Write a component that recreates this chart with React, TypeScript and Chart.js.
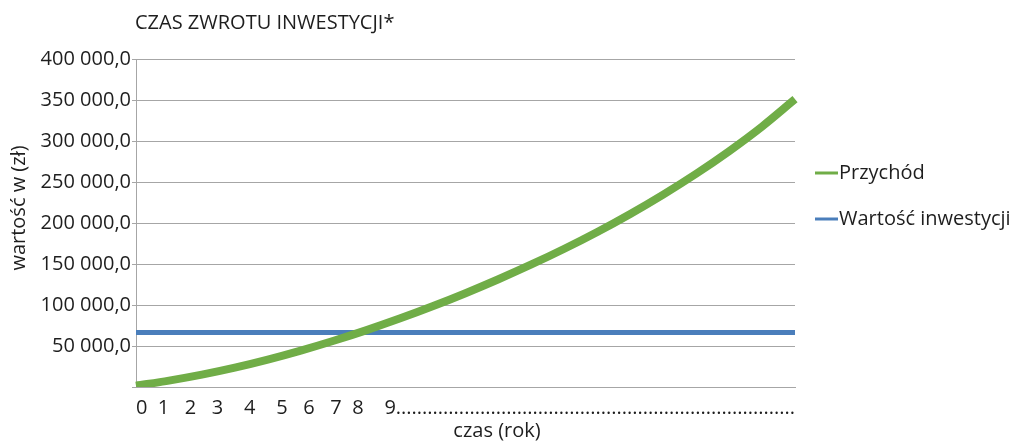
import { useEffect, useRef } from 'react';
import { Chart, registerables } from 'chart.js';

Chart.register(...registerables);

const TITLE = 'CZAS ZWROTU INWESTYCJI*';
const Y_TITLE = 'wartość w (zł)';
const X_TITLE = 'czas (rok)';
const X_TICK_LABEL = '0  1   2   3    4    5   6   7  8    9' + '.'.repeat(76);

const YEARS = [0, 1, 2, 3, 4, 5, 6, 7, 8, 9, 10, 11, 12, 13, 14, 15, 16, 17, 18, 19, 20];
const PRZYCHOD = [1500, 7800, 15100, 23600, 33400, 44400, 56400, 69400, 83400, 98400, 114400, 131400, 149400, 168600, 189100, 211100, 234700, 260100, 287600, 317600, 351000];
const WARTOSC_INWESTYCJI = [66500, 66500, 66500, 66500, 66500, 66500, 66500, 66500, 66500, 66500, 66500, 66500, 66500, 66500, 66500, 66500, 66500, 66500, 66500, 66500, 66500];

const SERIES_LABELS = ['Przychód', 'Wartość inwestycji'];
const Y_MIN = 0;
const Y_MAX = 400000;
const Y_STEP = 50000;

const FONT = '"Open Sans", "Noto Sans", sans-serif';
const FONT_SIZE = 20;
const TEXT_COLOR = '#1e1e1e';
const GRID_COLOR = '#A6A6A6';
const GREEN = '#70AD47';
const BLUE = '#4A7EBB';

function formatPl(v: number): string {
  if (v === 0) return '';
  const s = Math.round(v).toString().replace(/\B(?=(\d{3})+(?!\d))/g, ' ');
  return s + ',0';
}

const textPlugin = {
  id: 'customTexts',
  afterDraw(chart: any) {
    const ctx = chart.ctx as CanvasRenderingContext2D;
    ctx.save();
    ctx.fillStyle = TEXT_COLOR;
    ctx.font = `${FONT_SIZE}px ${FONT}`;
    ctx.textBaseline = 'middle';
    ctx.textAlign = 'left';
    ctx.fillText(TITLE, 135, 23);

    ctx.textAlign = 'center';
    ctx.fillText(X_TITLE, 497, 431);

    ctx.save();
    ctx.translate(19, 208);
    ctx.rotate(-Math.PI / 2);
    ctx.fillText(Y_TITLE, 0, 0);
    ctx.restore();

    ctx.textAlign = 'left';
    chart.data.datasets.forEach((ds: any, i: number) => {
      const y = 173 + i * 46;
      ctx.strokeStyle = ds.borderColor;
      ctx.lineWidth = 3;
      ctx.beginPath();
      ctx.moveTo(815, y);
      ctx.lineTo(838, y);
      ctx.stroke();
      ctx.fillStyle = TEXT_COLOR;
      ctx.fillText(ds.label, 839, y);
    });
    ctx.restore();
  },
};

export default function App() {
  const ref = useRef<HTMLCanvasElement | null>(null);

  useEffect(() => {
    if (!ref.current) return;
    const chart = new Chart(ref.current, {
      type: 'line',
      data: {
        labels: YEARS.map(String),
        datasets: [
          {
            label: SERIES_LABELS[0],
            data: PRZYCHOD,
            borderColor: GREEN,
            backgroundColor: GREEN,
            borderWidth: 8,
            pointRadius: 0,
            cubicInterpolationMode: 'monotone',
          },
          {
            label: SERIES_LABELS[1],
            data: WARTOSC_INWESTYCJI,
            borderColor: BLUE,
            backgroundColor: BLUE,
            borderWidth: 5,
            pointRadius: 0,
            tension: 0,
          },
        ],
      },
      options: {
        animation: false,
        responsive: true,
        maintainAspectRatio: false,
        layout: { padding: { top: 59, right: 221, bottom: 0, left: 0 } },
        plugins: {
          legend: { display: false },
          title: { display: false },
          tooltip: { enabled: false },
        },
        scales: {
          x: {
            type: 'category',
            offset: false,
            grid: { display: true, drawOnChartArea: false, drawTicks: false },
            border: { display: true, color: GRID_COLOR, width: 1 },
            ticks: {
              autoSkip: false,
              maxRotation: 0,
              minRotation: 0,
              align: 'start',
              padding: 9,
              color: TEXT_COLOR,
              font: { family: FONT, size: FONT_SIZE },
              callback: (_v: any, i: number) => (i === 0 ? X_TICK_LABEL : ''),
            },
            afterFit: (scale: any) => {
              scale.height = 56;
            },
          },
          y: {
            min: Y_MIN,
            max: Y_MAX,
            grid: { color: GRID_COLOR, lineWidth: 1, drawTicks: true, tickLength: 4, tickColor: GRID_COLOR },
            border: { display: true, color: GRID_COLOR, width: 1 },
            ticks: {
              stepSize: Y_STEP,
              padding: 1,
              color: TEXT_COLOR,
              font: { family: FONT, size: FONT_SIZE },
              callback: (v: any) => formatPl(Number(v)),
            },
            afterFit: (scale: any) => {
              scale.width = 136;
            },
          },
        },
      },
      plugins: [textPlugin],
    });
    return () => chart.destroy();
  }, []);

  return (
    <div style={{ position: 'absolute', left: 0, top: 0, width: 1016, height: 443 }}>
      <canvas ref={ref} />
    </div>
  );
}
